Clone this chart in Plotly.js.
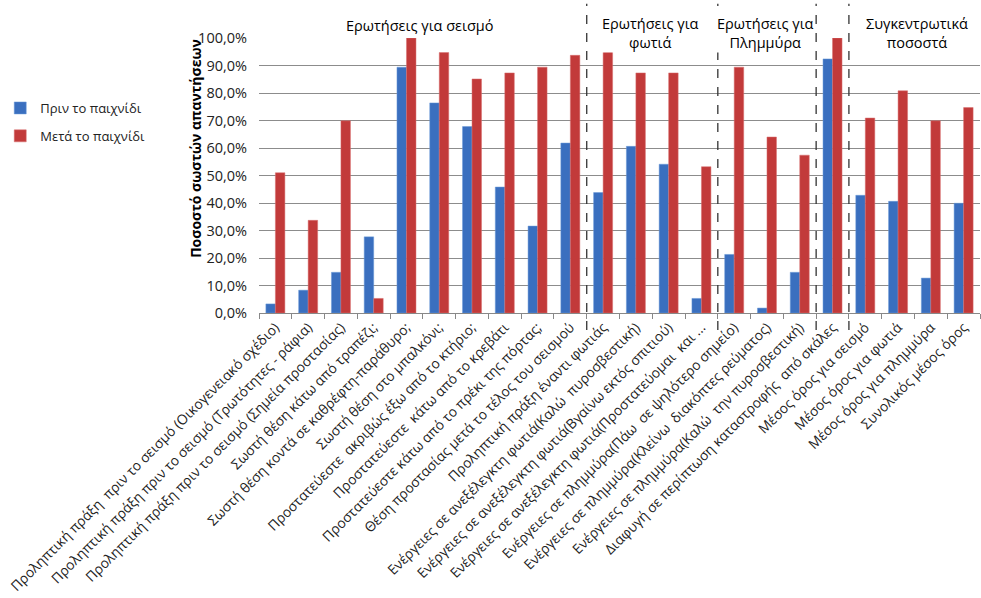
<!DOCTYPE html>
<html>
<head>
<meta charset="utf-8">
<script src="https://cdn.plot.ly/plotly-3.0.1.min.js"></script>
<style>html,body{margin:0;padding:0;background:#fff;}#chart{width:981px;height:598px;}</style>
</head>
<body>
<div id="chart"></div>
<script>
const categories = [
  "Προληπτική πράξη  πριν το σεισμό (Οικογενειακό σχέδιο)",
  "Προληπτική πράξη πριν το σεισμό (Τρωτότητες - ράφια)",
  "Προληπτική πράξη πριν το σεισμό (Σημεία προστασίας)",
  "Σωστή θέση κάτω από τραπέζι;",
  "Σωστή θέση κοντά σε καθρέφτη-παράθυρο;",
  "Σωστή θέση στο μπαλκόνι;",
  "Προστατεύεστε  ακριβώς έξω από το κτήριο;",
  "Προστατεύεστε  κάτω από το κρεβάτι",
  "Προστατεύεστε κάτω από το πρέκι της πόρτας;",
  "Θέση προστασίας μετά το τέλος του σεισμού",
  "Προληπτική πράξη έναντι φωτιάς",
  "Ενέργειες σε ανεξέλεγκτη φωτιά(Καλώ  πυροσβεστική)",
  "Ενέργειες σε ανεξέλεγκτη φωτιά(Βγαίνω εκτός σπιτιού)",
  "Ενέργειες σε ανεξέλεγκτη φωτιά(Προστατεύομαι  και ...",
  "Ενέργειες σε πλημμύρα(Πάω  σε ψηλότερο σημείο)",
  "Ενέργειες σε πλημμύρα(Κλείνω  διακόπτες ρεύματος)",
  "Ενέργειες σε πλημμύρα(Καλώ  την πυροσβεστική)",
  "Διαφυγή σε περίπτωση καταστροφής  από σκάλες",
  "Μέσος όρος για σεισμό",
  "Μέσος όρος για φωτιά",
  "Μέσος όρος για πλημμύρα",
  "Συνολικός μέσος όρος"
];
const before = [3.3, 8.3, 14.8, 27.7, 89.4, 76.4, 67.8, 45.8, 31.6, 61.8, 43.8, 60.6, 54.1, 5.3, 21.3, 1.8, 14.8, 92.4, 42.8, 40.6, 12.7, 39.9];
const after  = [51.0, 33.7, 69.9, 5.3, 100.0, 94.7, 85.1, 87.3, 89.4, 93.7, 95.8, 87.3, 87.3, 53.2, 89.4, 64.0, 57.4, 100.0, 70.9, 80.8, 69.9, 74.7];
const seriesNames = ["Πριν το παιχνίδι", "Μετά το παιχνίδι"];
const yTicks = [0, 10, 20, 30, 40, 50, 60, 70, 80, 90, 100];
const yTickText = ["0,0%", "10,0%", "20,0%", "30,0%", "40,0%", "50,0%", "60,0%", "70,0%", "80,0%", "90,0%", "100,0%"];
const yTitle = "Ποσοστό σωστών απαντήσεων";
const groupTitles = ["Ερωτήσεις για σεισμό", "Ερωτήσεις για<br>φωτιά", "Ερωτήσεις για<br>Πλημμύρα", "Συγκεντρωτικά<br>ποσοστά"];
const groupCenters = [4.4, 11.44, 14.94, 19.57];
const separators = [9.5, 13.5, 16.5, 17.5];

const FONT = "Open Sans, Noto Sans, sans-serif";

const traces = [
  {type: "bar", name: seriesNames[0], x: categories, y: before, legendgroup: "a",
   marker: {color: "#3a6fbf", line: {color: "#6a9ad8", width: 0.5}}},
  {type: "bar", name: seriesNames[1], x: categories, y: after, legendgroup: "b",
   marker: {color: "#c23a3a", line: {color: "#d87070", width: 0.5}}}
];

const shapes = separators.map(s => ({
  type: "line", xref: "x", yref: "paper", x0: s, x1: s, y0: -0.062, y1: 1.125,
  line: {color: "#333", width: 1.3, dash: "dash"}
}));

const annotations = groupTitles.map((t, i) => ({
  xref: "x", yref: "paper", x: groupCenters[i], y: i === 0 ? 1.047 : 1.017,
  text: t, showarrow: false, xanchor: "center", yanchor: "middle",
  font: {family: FONT, size: 14.5, color: "#000"}, bgcolor: i === 0 ? "rgba(0,0,0,0)" : "#fff",
  borderpad: 0
}));
annotations.push({
  xref: "paper", yref: "paper", x: -0.089, y: 0.6, textangle: -90,
  text: "<b>" + yTitle + "</b>", showarrow: false, xanchor: "center", yanchor: "middle",
  font: {family: FONT, size: 14, color: "#000"}
});

const layout = {
  width: 981, height: 598,
  margin: {l: 258, r: 1, t: 38, b: 285},
  paper_bgcolor: "#fff", plot_bgcolor: "#fff",
  font: {family: FONT, color: "#222"},
  barmode: "group", bargap: 0.42, bargroupgap: 0,
  showlegend: true,
  legend: {x: -0.357, y: 0.8, xanchor: "left", yanchor: "top", tracegroupgap: 8, itemwidth: 30,
           font: {family: FONT, size: 13, color: "#222"}, bgcolor: "rgba(0,0,0,0)"},
  xaxis: {type: "category", tickangle: -45, automargin: false,
          tickfont: {family: FONT, size: 13.8, color: "#222"},
          ticks: "outside", tickson: "boundaries", ticklen: 5, tickcolor: "#888",
          showline: true, linecolor: "#888", linewidth: 1, showgrid: false},
  yaxis: {range: [0, 100], tickvals: yTicks, ticktext: yTickText, automargin: false,
          tickfont: {family: FONT, size: 14.5, color: "#222"},
          showgrid: true, gridcolor: "#8c8c8c", gridwidth: 1, zeroline: false,
          showline: false, ticks: "", ticklabelstandoff: 11},
  shapes: shapes,
  annotations: annotations
};

Plotly.newPlot("chart", traces, layout, {displayModeBar: false, staticPlot: true});
</script>
</body>
</html>
